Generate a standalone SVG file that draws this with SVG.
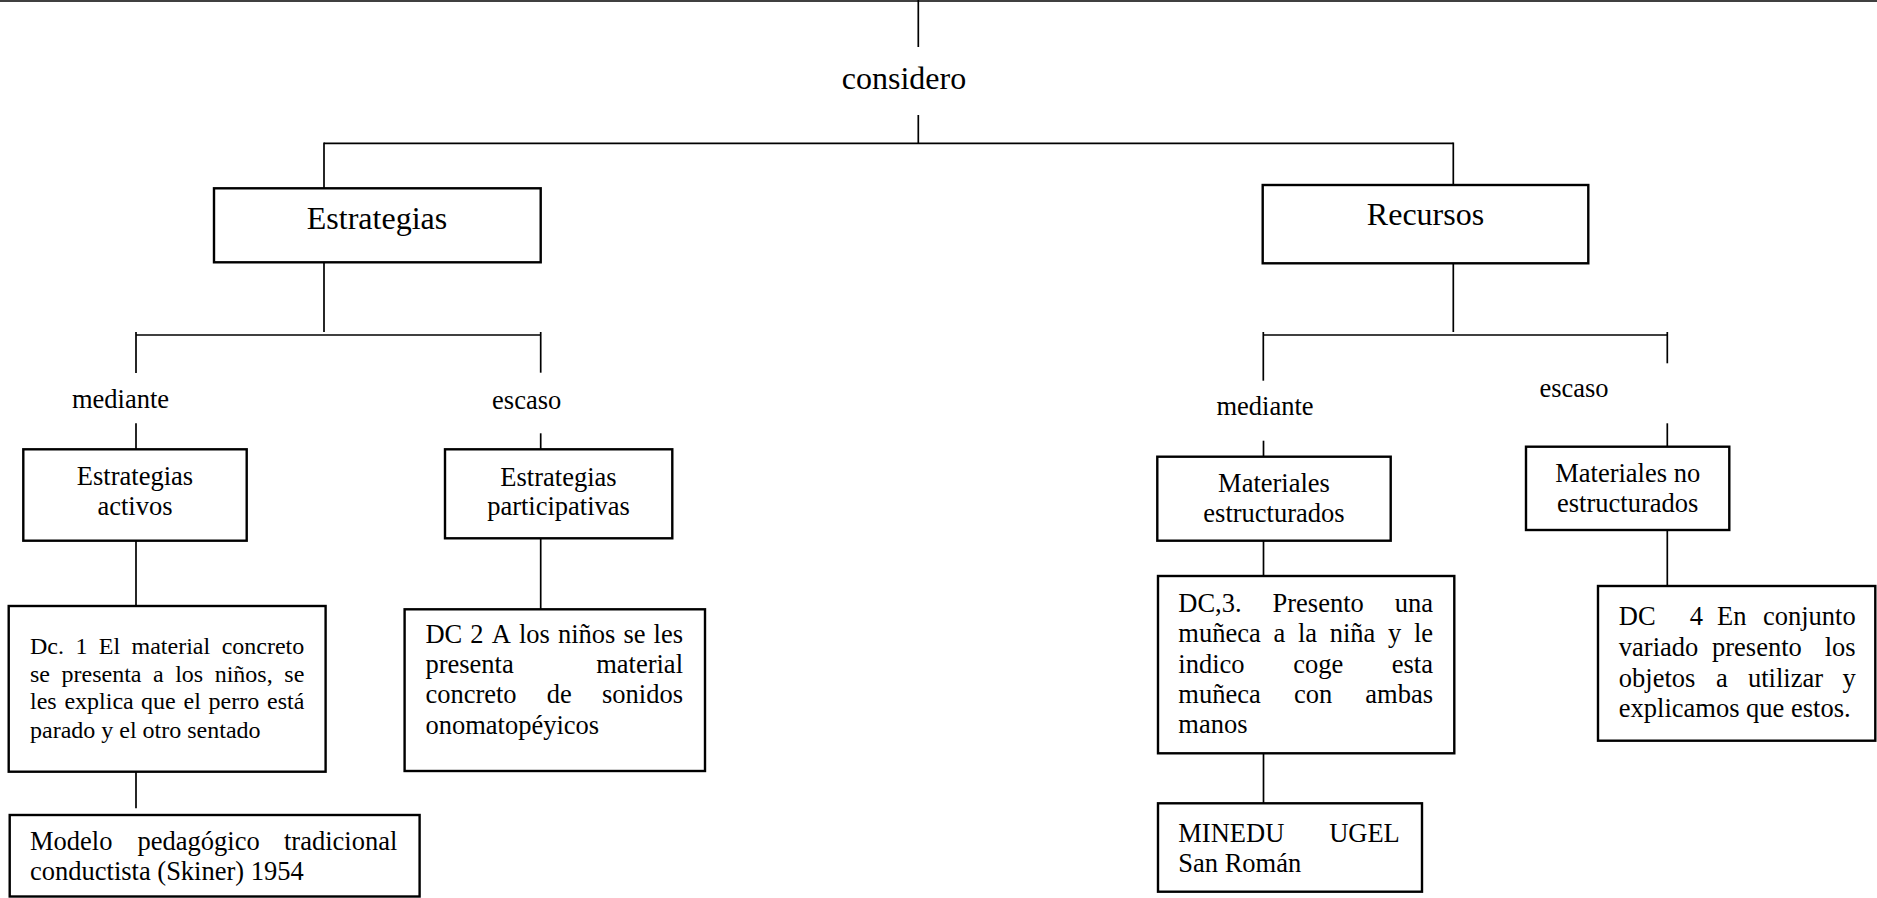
<svg xmlns="http://www.w3.org/2000/svg" width="1877" height="898" viewBox="0 0 1877 898">
<style>
  text { font-family: "Liberation Serif", "Times New Roman", serif; fill: #000; }
  .t32 { font-size: 32px; }
  .t26 { font-size: 26.5px; }
  .t24 { font-size: 24px; }
  .c { text-anchor: middle; }
  .e { text-anchor: end; }
  .box { fill: #fff; stroke: #000; stroke-width: 2.4; }
  .ln { stroke: #000; stroke-width: 1.7; fill: none; }
</style>
<rect width="1877" height="898" fill="#fff"/>
<g id="connectors">
  <line class="ln" x1="0" y1="1" x2="1877" y2="1"/>
  <line class="ln" x1="918.3" y1="0" x2="918.3" y2="47"/>
  <line class="ln" x1="918.3" y1="115" x2="918.3" y2="143"/>
  <line class="ln" x1="324" y1="143.3" x2="1453.3" y2="143.3" stroke-width="2"/>
  <line class="ln" x1="324" y1="142.5" x2="324" y2="188"/>
  <line class="ln" x1="1453.3" y1="142.5" x2="1453.3" y2="185"/>
  <line class="ln" x1="324" y1="262" x2="324" y2="332"/>
  <line class="ln" x1="136" y1="335" x2="540.7" y2="335" stroke-width="2"/>
  <line class="ln" x1="136" y1="332" x2="136" y2="373"/>
  <line class="ln" x1="540.7" y1="332" x2="540.7" y2="372.7"/>
  <line class="ln" x1="136" y1="423.3" x2="136" y2="449.3"/>
  <line class="ln" x1="540.7" y1="433.3" x2="540.7" y2="449.3"/>
  <line class="ln" x1="136" y1="540.7" x2="136" y2="606"/>
  <line class="ln" x1="540.7" y1="538.3" x2="540.7" y2="609.3"/>
  <line class="ln" x1="136" y1="771.7" x2="136" y2="808.3"/>
  <line class="ln" x1="1453.3" y1="263" x2="1453.3" y2="332"/>
  <line class="ln" x1="1263.3" y1="335" x2="1667.3" y2="335" stroke-width="2"/>
  <line class="ln" x1="1263.3" y1="332" x2="1263.3" y2="380.7"/>
  <line class="ln" x1="1667.3" y1="332" x2="1667.3" y2="363.3"/>
  <line class="ln" x1="1263.5" y1="440.7" x2="1263.5" y2="456.7"/>
  <line class="ln" x1="1667.3" y1="423.3" x2="1667.3" y2="446.7"/>
  <line class="ln" x1="1263.5" y1="540.7" x2="1263.5" y2="576"/>
  <line class="ln" x1="1667.3" y1="530" x2="1667.3" y2="586"/>
  <line class="ln" x1="1263.5" y1="753.3" x2="1263.5" y2="803.3"/>
</g>
<g id="considero">
  <text class="t32 c" x="904" y="89">considero</text>
</g>
<g id="estrategias">
  <rect class="box" x="214" y="188.3" width="326.7" height="74"/>
  <text class="t32 c" x="377" y="229.3">Estrategias</text>
</g>
<g id="recursos">
  <rect class="box" x="1262.7" y="185" width="325.6" height="78.3"/>
  <text class="t32 c" x="1425.5" y="225">Recursos</text>
</g>
<g id="label-mediante-1">
  <text class="t26 c" x="120.5" y="408">mediante</text>
</g>
<g id="label-escaso-1">
  <text class="t26 c" x="526.7" y="409.3">escaso</text>
</g>
<g id="label-mediante-2">
  <text class="t26 c" x="1265" y="415">mediante</text>
</g>
<g id="label-escaso-2">
  <text class="t26 c" x="1574" y="397.3">escaso</text>
</g>
<g id="estrategias-activos">
  <rect class="box" x="23.3" y="449.3" width="223.4" height="91.4"/>
  <text class="t26 c" x="135" y="485">Estrategias</text>
  <text class="t26 c" x="135" y="515">activos</text>
</g>
<g id="estrategias-participativas">
  <rect class="box" x="445" y="449.3" width="227.3" height="89"/>
  <text class="t26 c" x="558.5" y="485.7">Estrategias</text>
  <text class="t26 c" x="558.5" y="515">participativas</text>
</g>
<g id="materiales-estructurados">
  <rect class="box" x="1157.3" y="456.7" width="233.4" height="84"/>
  <text class="t26 c" x="1274" y="492.3">Materiales</text>
  <text class="t26 c" x="1274" y="522.3">estructurados</text>
</g>
<g id="materiales-no-estructurados">
  <rect class="box" x="1526" y="446.7" width="203.3" height="83.3"/>
  <text class="t26 c" x="1627.7" y="482.3">Materiales no</text>
  <text class="t26 c" x="1627.7" y="512.3">estructurados</text>
</g>
<g id="dc1">
  <rect class="box" x="8.7" y="606" width="316.9" height="165.7"/>
  <text class="t24" y="654"><tspan x="30">Dc.</tspan><tspan x="75.4">1</tspan><tspan x="98.8">El</tspan><tspan x="131.5">material</tspan></text>
  <text class="t24 e" x="304.3" y="654">concreto</text>
  <text class="t24" y="681.7"><tspan x="30">se</tspan><tspan x="61.5">presenta</tspan><tspan x="153">a</tspan><tspan x="175.2">los</tspan><tspan x="214.7">niños,</tspan></text>
  <text class="t24 e" x="304.3" y="681.7">se</text>
  <text class="t24" y="709.3"><tspan x="30">les</tspan><tspan x="64.4">explica</tspan><tspan x="141">que</tspan><tspan x="183.5">el</tspan><tspan x="208.5">perro</tspan></text>
  <text class="t24 e" x="304.3" y="709.3">está</text>
  <text class="t24" x="30" y="737.7">parado y el otro sentado</text>
</g>
<g id="dc2">
  <rect class="box" x="404.6" y="609.3" width="300.4" height="161.7"/>
  <text class="t26" y="642.7"><tspan x="425.4">DC</tspan><tspan x="470.3">2</tspan><tspan x="491.7">A</tspan><tspan x="518.9">los</tspan><tspan x="557.9">niños</tspan><tspan x="623.4">se</tspan></text>
  <text class="t26 e" x="683" y="642.7">les</text>
  <text class="t26" x="425.4" y="672.7">presenta</text>
  <text class="t26 e" x="683" y="672.7">material</text>
  <text class="t26" y="703.3"><tspan x="425.4">concreto</tspan><tspan x="546.8">de</tspan></text>
  <text class="t26 e" x="683" y="703.3">sonidos</text>
  <text class="t26" x="425.4" y="734">onomatopéyicos</text>
</g>
<g id="modelo">
  <rect class="box" x="9.7" y="815" width="409.9" height="81.5"/>
  <text class="t26" y="850"><tspan x="30">Modelo</tspan><tspan x="137.5">pedagógico</tspan></text>
  <text class="t26 e" x="397.3" y="850">tradicional</text>
  <text class="t26" x="30" y="880">conductista (Skiner) 1954</text>
</g>
<g id="dc3">
  <rect class="box" x="1158" y="576" width="296.3" height="177.3"/>
  <text class="t26" y="611.7"><tspan x="1178.3">DC,3.</tspan><tspan x="1272.5">Presento</tspan></text>
  <text class="t26 e" x="1433" y="611.7">una</text>
  <text class="t26" y="641.7"><tspan x="1178.3">muñeca</tspan><tspan x="1273.4">a</tspan><tspan x="1297.9">la</tspan><tspan x="1329.7">niña</tspan><tspan x="1388">y</tspan></text>
  <text class="t26 e" x="1433" y="641.7">le</text>
  <text class="t26" y="672.7"><tspan x="1178.3">indico</tspan><tspan x="1293.3">coge</tspan></text>
  <text class="t26 e" x="1433" y="672.7">esta</text>
  <text class="t26" y="703.3"><tspan x="1178.3">muñeca</tspan><tspan x="1294.1">con</tspan></text>
  <text class="t26 e" x="1433" y="703.3">ambas</text>
  <text class="t26" x="1178.3" y="733.3">manos</text>
</g>
<g id="minedu">
  <rect class="box" x="1158" y="803.3" width="264" height="88.4"/>
  <text class="t26" x="1178.3" y="841.7">MINEDU</text>
  <text class="t26 e" x="1399.8" y="841.7">UGEL</text>
  <text class="t26" x="1178.3" y="871.7">San Román</text>
</g>
<g id="dc4">
  <rect class="box" x="1598" y="586" width="277.3" height="154.7"/>
  <text class="t26" y="625"><tspan x="1618.8">DC</tspan><tspan x="1689.7">4</tspan><tspan x="1717">En</tspan></text>
  <text class="t26 e" x="1855.7" y="625">conjunto</text>
  <text class="t26" y="656"><tspan x="1618.8">variado</tspan><tspan x="1712">presento</tspan></text>
  <text class="t26 e" x="1855.7" y="656">los</text>
  <text class="t26" y="686.7"><tspan x="1618.8">objetos</tspan><tspan x="1716">a</tspan><tspan x="1748">utilizar</tspan></text>
  <text class="t26 e" x="1855.7" y="686.7">y</text>
  <text class="t26" x="1618.8" y="716.7">explicamos que estos.</text>
</g>
</svg>
